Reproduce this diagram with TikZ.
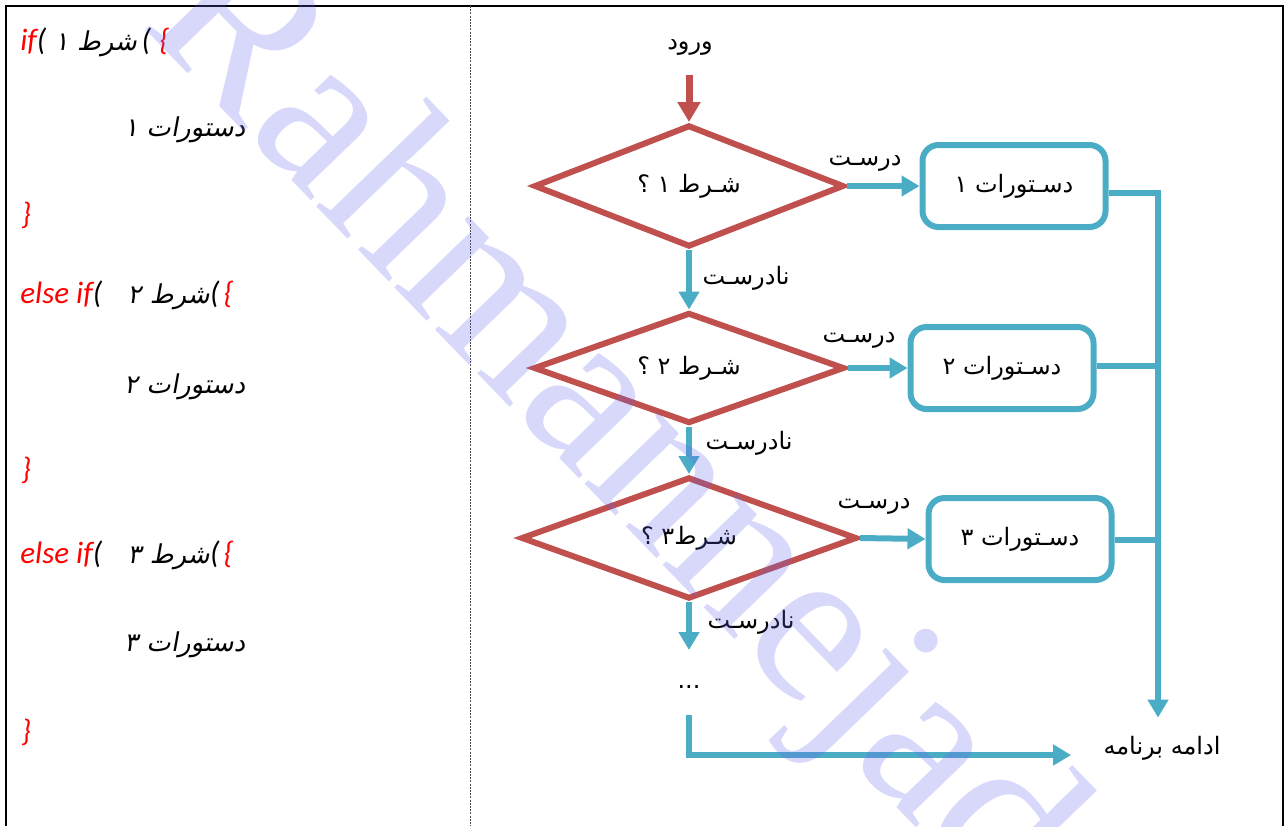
\documentclass[tikz,border=0pt]{standalone}
\usepackage{fontspec}
\usetikzlibrary{arrows.meta,shapes.geometric}
\TeXXeTstate=1
\newfontfamily\fa[Script=Arabic]{DejaVu Sans}
\newfontfamily\fasl[Script=Arabic,FakeSlant=0.18]{DejaVu Sans}
\newfontfamily\lat{Carlito}
\newfontfamily\wmfont{Liberation Serif}
\definecolor{condred}{RGB}{192,80,77}
\definecolor{flowblue}{RGB}{75,172,198}
\definecolor{kwred}{RGB}{255,0,0}
\definecolor{wmblue}{RGB}{100,100,240}
\newcommand{\kw}[1]{{\lat\itshape\fontsize{15.5}{17}\selectfont\color{kwred}#1}}
\newcommand{\pl}[1]{{\lat\itshape\fontsize{15.5}{17}\selectfont #1}}
\newcommand{\fx}[1]{{\fasl\beginR #1\endR}}
\begin{document}
\begin{tikzpicture}[x=0.5pt,y=-0.5pt,
  cond/.style={diamond, aspect=2.6, draw=condred, line width=3pt, inner sep=0pt,
    font=\fa\fontsize{12}{14}\selectfont},
  act/.style={rectangle, rounded corners=8pt, draw=flowblue, line width=3pt,
    minimum width=91.5pt, minimum height=41pt, inner sep=0pt,
    font=\fa\fontsize{12}{14}\selectfont},
  lbl/.style={inner sep=0pt, font=\fa\fontsize{12}{14}\selectfont},
  code/.style={anchor=west, inner sep=0pt, font=\fontsize{13}{15}\selectfont},
  flow/.style={draw=flowblue, line width=3pt, line join=miter,
    -{Triangle[width=10pt,length=9pt]}},
  link/.style={draw=flowblue, line width=3pt},
  entry/.style={draw=condred, line width=3.5pt,
    -{Triangle[width=11pt,length=10pt]}}]
\useasboundingbox (0,0) rectangle (1288,826);

% frame and column divider
\draw[line width=1.2pt] (6,826) -- (6,6) -- (1283,6) -- (1283,826);
\draw[line width=0.5pt, black!70, dash pattern=on 1pt off 0.6pt] (470,6) -- (470,826);

% code column
\node[code] (k1) at (20,42)  {\kw{if}\pl{(}\ \fx{شرط ۱}\,\pl{(}\ \kw{\{}};
\node[code] (k2) at (124,130) {\fx{دستورات ۱}};
\node[code] (k3) at (21,215) {\kw{\}}};
\node[code] (k4) at (20,295) {\kw{else if}\pl{(}\ \ \ \fx{شرط ۲}\pl{(}\,\kw{\{}};
\node[code] (k5) at (124,387) {\fx{دستورات ۲}};
\node[code] (k6) at (21,470) {\kw{\}}};
\node[code] (k7) at (20,555) {\kw{else if}\pl{(}\ \ \ \fx{شرط ۳}\pl{(}\,\kw{\{}};
\node[code] (k8) at (124,645) {\fx{دستورات ۳}};
\node[code] (k9) at (21,732) {\kw{\}}};

% flowchart
\node[lbl] (in) at (690,47) {\beginR ورود\endR};
\coordinate (s0) at (689,75);
\node[cond, minimum width=155pt, minimum height=61pt] (d1) at (689,186) {\beginR شـرط ۱ ؟\endR};
\node[cond, minimum width=155.5pt, minimum height=55.5pt] (d2) at (689,368) {\beginR شـرط ۲ ؟\endR};
\node[cond, minimum width=168pt, minimum height=61pt] (d3) at (689,538) {\beginR شـرط۳ ؟\endR};

\node[act] (b1) at (1014,186) {\beginR دسـتورات ۱\endR};
\node[act] (b2) at (1002,368) {\beginR دسـتورات ۲\endR};
\node[act] (b3) at (1020,539) {\beginR دسـتورات ۳\endR};

\node[lbl] (t1) at (865,163) {\beginR درسـت\endR};
\node[lbl] (t2) at (859,340) {\beginR درسـت\endR};
\node[lbl] (t3) at (874,506) {\beginR درسـت\endR};
\node[lbl] (f1) at (746,278) {\beginR نادرسـت\endR};
\node[lbl] (f2) at (749,443) {\beginR نادرسـت\endR};
\node[lbl] (f3) at (751,622) {\beginR نادرسـت\endR};

\node[lbl, anchor=base] (more) at (689,688) {...};
\node[lbl] (cont) at (1162,748) {\beginR ادامه برنامه\endR};

\coordinate (e3) at (689,650);
\coordinate (c0) at (689,715);
\coordinate (c1) at (689,755);
\coordinate (j1) at (1158,193);
\coordinate (j2) at (1158,366);
\coordinate (j3) at (1158,540);

\draw[entry] (s0) -- (d1.north);
\draw[flow] (d1.south) -- (d2.north);
\draw[flow] (d2.south) -- (d3.north);
\draw[flow] (d3.south) -- (e3);
\draw[flow] (d1.east) -- (b1.west);
\draw[flow] (d2.east) -- (b2.west);
\draw[flow] (d3.east) -- (b3.west);
\draw[flow, shorten >=9pt] (b1.east |- j1) -- (j1) -- (j1 |- cont.north);
\draw[link] (b2.east |- j2) -- (j2);
\draw[link] (b3.east |- j3) -- (j3);
\draw[flow, shorten >=16pt] (c0) -- (c1) -- (cont.west |- c1);

% watermark
\node[inner sep=0pt, rotate=-46, text=wmblue, text opacity=0.25,
  font=\wmfont\fontsize{112}{112}\selectfont] (wm) at (607,430) {Rahmannejad};
\end{tikzpicture}
\end{document}
